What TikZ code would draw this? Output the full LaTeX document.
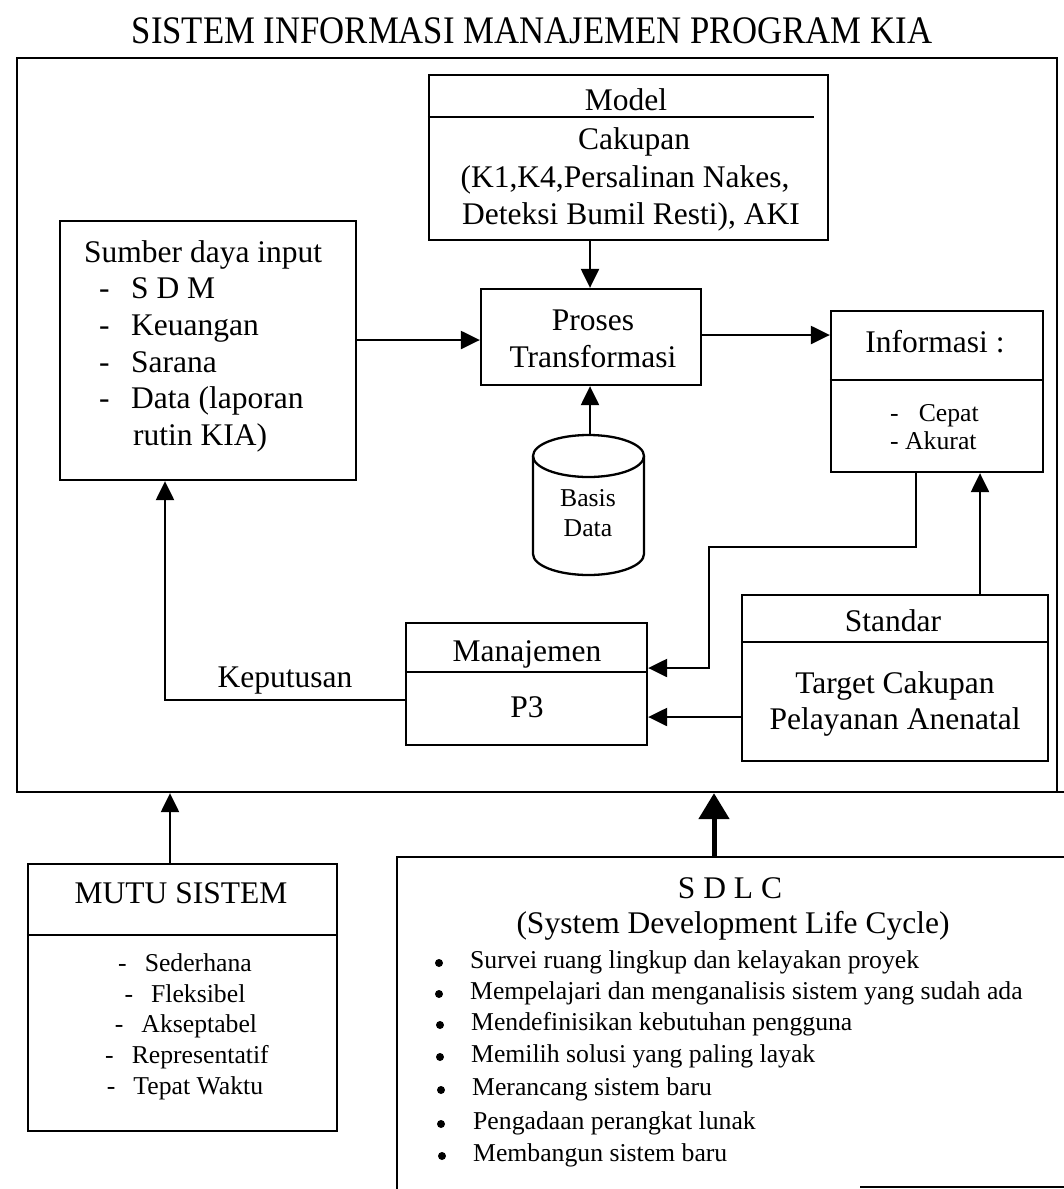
\documentclass[tikz,border=0pt]{standalone}
\usepackage{fontspec}
\setmainfont{Liberation Serif}
\usetikzlibrary{arrows.meta}
\begin{document}
\begin{tikzpicture}[x=1pt,y=-1pt,
  lw/.style={line width=2.3pt},
  box/.style={draw, line width=2.3pt, inner sep=0pt},
  big/.style={inner sep=0pt, font=\fontsize{31.5}{37}\selectfont, text height=21pt, text depth=0pt},
  small/.style={inner sep=0pt, font=\fontsize{25.7}{30}\selectfont, text height=17pt, text depth=0pt},
  conn/.style={line width=2.3pt, -{Triangle[length=19pt,width=18pt]}},
  thickconn/.style={line width=5pt, -{Triangle[length=26pt,width=30pt]}},
  dot/.style={circle, fill, inner sep=0pt, minimum size=8pt}
]
\useasboundingbox (0,0) rectangle (1064,1189);

% title
\node[inner sep=0pt, font=\fontsize{39}{45}\selectfont, text height=26pt, text depth=0pt] (title) at (532,30)
  {\scalebox{0.89}[1]{SISTEM INFORMASI MANAJEMEN PROGRAM KIA}};

% outer system frame
\node[box, minimum width=1040pt, minimum height=734pt] (frame) at (537,425) {};
\draw[lw] (1056,792) -- (1064,792);

% model
\node[box, minimum width=399pt, minimum height=165pt] (model) at (628.5,157.5) {};
\draw[lw] (model.west |- 0,117) -- (814,117);
\node[big] (modelT) at (626,100) {Model};
\node[big] (cak1) at (634,139) {Cakupan};
\node[big] (cak2) at (625,177) {(K1,K4,Persalinan Nakes,};
\node[big] (cak3) at (631,214) {Deteksi Bumil Resti), AKI};

% transformation process
\node[box, minimum width=220pt, minimum height=96pt] (proses) at (591,337) {};
\node[big] (prT1) at (593,320) {Proses};
\node[big] (prT2) at (593,357) {Transformasi};

% input resources
\node[box, minimum width=296pt, minimum height=259pt] (sumber) at (208,350.5) {};
\node[big, anchor=west] (sdi) at (84,252) {Sumber daya input};
\node[big, anchor=west] (sd1) at (99,288) {-};
\node[big, anchor=west] (si1) at (131,288) {S D M};
\node[big, anchor=west] (sd2) at (99,325) {-};
\node[big, anchor=west] (si2) at (131,325) {Keuangan};
\node[big, anchor=west] (sd3) at (99,362) {-};
\node[big, anchor=west] (si3) at (131,362) {Sarana};
\node[big, anchor=west] (sd4) at (99,398) {-};
\node[big, anchor=west] (si4) at (131,398) {Data (laporan};
\node[big, anchor=west] (si5) at (133,435) {rutin KIA)};

% information
\node[box, minimum width=212pt, minimum height=161pt] (informasi) at (937,391.5) {};
\draw[lw] (informasi.west |- 0,380) -- (informasi.east |- 0,380);
\node[big] (infT) at (935,342) {Informasi :};
\node[small, anchor=west] (inf1) at (890,413) {-\hspace{20pt}Cepat};
\node[small, anchor=west] (inf2) at (890,441) {- Akurat};

% database cylinder
\draw[lw] (533,456) -- (533,554) arc[start angle=180, end angle=360, x radius=55.5pt, y radius=21pt] -- (644,456);
\draw[lw] (588.5,456) ellipse [x radius=55.5pt, y radius=21pt];
\node[minimum width=111pt, minimum height=140pt, inner sep=0pt] (basis) at (590,505) {};
\node[small] (basT1) at (588,498) {Basis};
\node[small] (basT2) at (588,528) {Data};

% management
\node[box, minimum width=241pt, minimum height=122pt] (manaj) at (526.5,684) {};
\draw[lw] (manaj.west |- 0,672) -- (manaj.east |- 0,672);
\node[big] (manT) at (527,651) {Manajemen};
\node[big] (p3) at (527,707) {P3};

% standard
\node[box, minimum width=306pt, minimum height=166pt] (standar) at (895,678) {};
\draw[lw] (standar.west |- 0,642) -- (standar.east |- 0,642);
\node[big] (stT) at (893,621) {Standar};
\node[big] (st1) at (895,683) {Target Cakupan};
\node[big] (st2) at (895,719) {Pelayanan Anenatal};

\node[big] (kep) at (285,677) {Keputusan};

% system quality
\node[box, minimum width=309pt, minimum height=267pt] (mutu) at (182.5,997.5) {};
\draw[lw] (mutu.west |- 0,935) -- (mutu.east |- 0,935);
\node[big] (mutuT) at (181,893) {MUTU SISTEM};
\node[small] (mu1) at (185,963) {-\hspace{18pt}Sederhana};
\node[small] (mu2) at (185,994) {-\hspace{18pt}Fleksibel};
\node[small] (mu3) at (186,1024) {-\hspace{18pt}Akseptabel};
\node[small] (mu4) at (187,1055) {-\hspace{18pt}Representatif};
\node[small] (mu5) at (185,1086) {-\hspace{18pt}Tepat Waktu};

% SDLC
\coordinate (sdlcTL) at (397,857);
\draw[lw] (397,1189) -- (sdlcTL) -- (1064,857);
\draw[lw] (860,1187) -- (1064,1187);
\node[big] (sdlcT) at (730,888) {S D L C};
\node[big] (sdlcT2) at (733,923) {(System Development Life Cycle)};
\node[dot] (b1) at (439,963) {};
\node[dot] (b2) at (439,994) {};
\node[dot] (b3) at (440,1025) {};
\node[dot] (b4) at (440,1057) {};
\node[dot] (b5) at (441,1090) {};
\node[dot] (b6) at (441,1124) {};
\node[dot] (b7) at (442,1156) {};
\node[small, anchor=west] (l1) at (470,960) {Survei ruang lingkup dan kelayakan proyek};
\node[small, anchor=west] (l2) at (470,991) {Mempelajari dan menganalisis sistem yang sudah ada};
\node[small, anchor=west] (l3) at (471,1022) {Mendefinisikan kebutuhan pengguna};
\node[small, anchor=west] (l4) at (471,1054) {Memilih solusi yang paling layak};
\node[small, anchor=west] (l5) at (472,1087) {Merancang sistem baru};
\node[small, anchor=west] (l6) at (473,1121) {Pengadaan perangkat lunak};
\node[small, anchor=west] (l7) at (473,1153) {Membangun sistem baru};

% connectors
\coordinate (mp) at (590,0);
\coordinate (sp) at (0,340);
\coordinate (pi) at (0,335);
\coordinate (si) at (980,0);
\coordinate (sm) at (0,717);
\coordinate (ib1) at (916,547);
\coordinate (ib2) at (709,547);
\coordinate (ib3) at (709,668);
\coordinate (kp) at (165,700);
\coordinate (mf) at (170,0);
\coordinate (sf) at (714,857);

\draw[conn] (model.south -| mp) -- (proses.north -| mp);
\draw[conn] (sumber.east |- sp) -- (proses.west |- sp);
\draw[conn] (proses.east |- pi) -- (informasi.west |- pi);
\draw[conn] (basis.north) -- (proses.south -| basis.north);
\draw[conn] (informasi.south -| ib1) -- (ib1) -- (ib2) -- (ib3) -- (manaj.east |- ib3);
\draw[conn] (standar.north -| si) -- (informasi.south -| si);
\draw[conn] (standar.west |- sm) -- (manaj.east |- sm);
\draw[conn] (manaj.west |- kp) -- (kp) -- (kp |- sumber.south);
\draw[conn] (mutu.north -| mf) -- (frame.south -| mf);
\draw[thickconn] (sf) -- (frame.south -| sf);
\end{tikzpicture}
\end{document}
